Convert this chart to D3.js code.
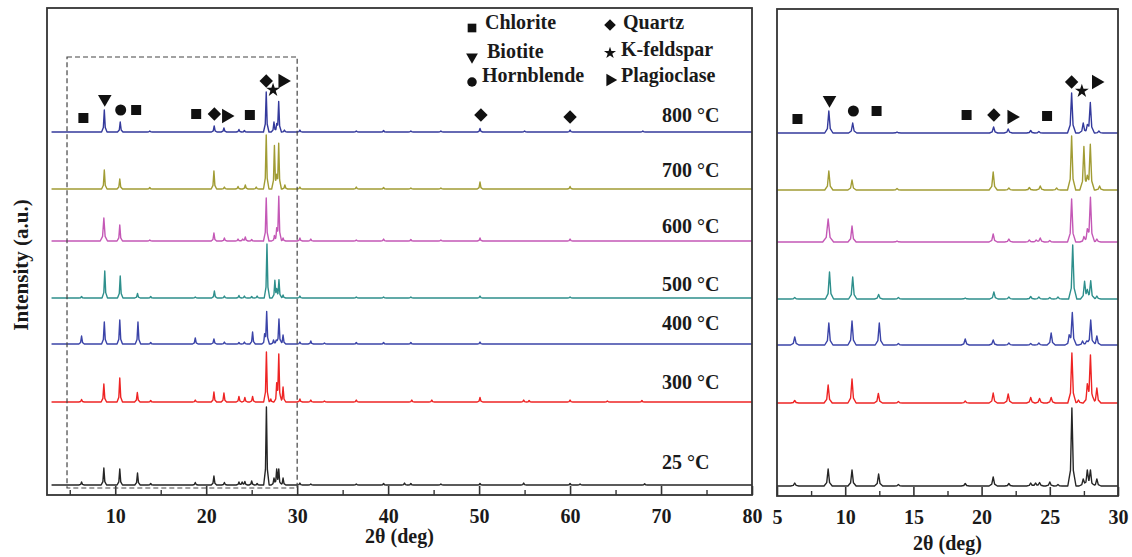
<!DOCTYPE html>
<html>
<head>
<meta charset="utf-8">
<script src="https://cdn.jsdelivr.net/npm/d3@7"></script>
<style>
  body { margin: 0; background: #fff; }
  text { font-family: "Liberation Serif", "Times New Roman", serif; font-weight: bold; fill: #1a1a1a; }
</style>
</head>
<body>
<svg id="chart" width="1132" height="557"></svg>
<script>
// samples, bottom to top
const temps = ["25 °C", "300 °C", "400 °C", "500 °C", "600 °C", "700 °C", "800 °C"];
const offsets = [10, 93, 151, 197, 254, 306, 363];
const colors = ["#262626", "#ee2424", "#3b44a8", "#2e8f8c", "#c458b6", "#a19c34", "#343a9c"];

// peaks: [2θ, height, half width]
const peaks25 = [[6.3,3],[8.75,17],[10.5,16],[12.45,12],[13.9,1.5],[18.8,2.5],[20.85,9],[22.0,2.5],[23.6,3],[23.95,3],[24.25,3.5],[25.0,4],[25.6,1.5],[26.62,78,0.3],[27.45,7],[27.75,15],[27.98,15],[28.45,7],[30.3,2],[31.5,1],[36.5,1],[39.5,1.5],[41.8,2],[42.5,1.5],[45.8,1],[50.1,1.5],[54.9,2],[60.0,1.5],[61.1,1],[68.2,1.2]];
const peaks300 = [[6.3,2.5],[8.75,18],[10.5,24],[12.43,9.5],[13.9,1.5],[18.8,2],[20.85,10],[21.95,9],[23.6,5.5],[24.25,4.5],[25.1,5.5],[26.62,50],[27.1,3],[27.75,16],[27.98,47],[28.45,15],[30.3,3],[31.5,2],[33.0,1],[36.5,2],[42.6,2],[44.8,2],[50.1,4.5],[54.9,2],[55.5,1.5],[60.0,2],[64.1,1],[67.9,1.5]];
const peaks400 = [[6.3,8],[8.8,22],[10.5,24],[12.5,22],[13.9,1.5],[18.8,6],[20.85,5],[22.0,2],[23.6,1.5],[24.2,2],[25.1,12],[26.42,8],[26.65,32],[27.4,4],[27.7,4],[28.0,25],[28.45,9],[30.3,2],[31.5,3],[33.0,1],[36.5,1.5],[39.5,1.5],[42.5,1.5],[50.1,2]];
const peaks500 = [[6.3,1.5],[8.85,27],[10.55,22],[12.45,4.5],[13.9,1.5],[18.8,1],[20.9,7],[22.0,2],[23.6,2.5],[24.2,2],[25.0,1.5],[25.6,2],[26.68,54],[27.55,17],[27.75,7],[28.0,18],[28.45,3],[30.3,2],[36.5,1],[39.5,1],[42.5,1],[50.1,2],[60.0,1]];
const peaks600 = [[8.75,23,0.4],[10.5,16],[13.8,1],[20.85,8],[22.0,3],[23.5,2],[24.0,2],[24.3,4],[25.0,1.5],[26.6,43],[27.5,5],[27.75,10],[27.98,44],[28.45,3],[30.3,3],[31.5,2],[36.5,1],[39.5,2],[42.5,1.5],[45.8,1],[50.1,3],[60.0,2]];
const peaks700 = [[8.8,19],[10.5,10],[13.8,1.5],[20.85,18],[22.0,2],[23.5,2.5],[24.3,4],[25.5,2],[26.6,54],[27.5,43],[27.75,9],[27.97,45],[28.65,4],[30.3,2],[36.5,2],[39.5,1.5],[42.5,1],[45.8,1],[50.1,7],[60.0,2.5]];
const peaks800 = [[8.8,22],[10.55,10],[13.8,1],[20.88,6],[21.95,4],[23.6,2.5],[24.2,1.5],[26.6,40],[27.45,10],[27.75,6],[27.97,30],[28.6,2],[30.3,2],[36.5,1],[39.5,1.5],[42.5,1],[45.8,1],[50.1,3.5],[55.0,1],[60.0,2],[68.0,1]];
const peakSets = [peaks25, peaks300, peaks400, peaks500, peaks600, peaks700, peaks800];

// phase markers above the 800 °C pattern: [phase, 2θ, level]
const markers = [["Chlorite",6.5,377],["Biotite",8.85,396],["Hornblende",10.6,385],["Chlorite",12.3,385],["Chlorite",18.9,381],["Quartz",20.9,381],["Plagioclase",22.2,379],["Chlorite",24.8,380],["Quartz",26.6,414],["K-feldspar",27.35,405],["Plagioclase",28.4,414],["Quartz",50.2,380],["Quartz",60.0,378]];

const phases = ["Chlorite", "Biotite", "Hornblende", "Quartz", "K-feldspar", "Plagioclase"];

const leftTicks = [10, 20, 30, 40, 50, 60, 70, 80];
const leftMinor = [5, 15, 25, 35, 45, 55, 65, 75];
const rightTicks = [5, 10, 15, 20, 25, 30];
const rightMinor = [7.5, 12.5, 17.5, 22.5, 27.5];

// layout
const labelLift = [16, 13, 14, 7, 8, 12, 10];
const svg = d3.select("#chart");

const symbolOf = {
  "Chlorite": [d3.symbolSquare, 0, 100],
  "Biotite": [d3.symbolTriangle, 180, 80],
  "Hornblende": [d3.symbolCircle, 0, 95],
  "Quartz": [d3.symbolSquare, 45, 90],
  "K-feldspar": [d3.symbolStar, 0, 60],
  "Plagioclase": [d3.symbolTriangle, 90, 90]
};

const tent = d3.scaleLinear().domain([-1, -0.35, 0, 0.35, 1]).range([0, 0.2, 1, 0.2, 0]).clamp(true);
function profile(list, lo, hi) {
  const xs = [lo, hi];
  list.forEach(([p, h, w = 0.3]) => [-1, -0.35, 0, 0.35, 1].forEach(f => xs.push(p + f * w)));
  const grid = Array.from(new Set(xs.filter(x => x >= lo && x <= hi))).sort((a, b) => a - b);
  return grid.map(x => [x, d3.sum(list, ([p, h, w = 0.3]) => h * tent((x - p) / w))]);
}

function panel(cfg) {
  const x = d3.scaleLinear().domain(cfg.xDomain).range(cfg.xRange);
  const y = d3.scaleLinear().domain([0, 487]).range(cfg.yRange);
  const g = svg.append("g");
  const clipId = "clip" + cfg.id;
  svg.append("clipPath").attr("id", clipId).append("rect")
    .attr("x", cfg.xRange[0]).attr("y", cfg.yRange[1])
    .attr("width", cfg.xRange[1] - cfg.xRange[0]).attr("height", cfg.yRange[0] - cfg.yRange[1]);

  const line = d3.line().x(d => x(d[0]));
  peakSets.forEach((pk, i) => {
    g.append("path")
      .datum(profile(pk, cfg.scan[0], cfg.scan[1]))
      .attr("clip-path", `url(#${clipId})`)
      .attr("fill", "none")
      .attr("stroke", colors[i])
      .attr("stroke-width", 1.4)
      .attr("stroke-linejoin", "round")
      .attr("d", line.y(d => y(d[1] + offsets[i])));
  });

  g.selectAll(".marker")
    .data(markers.filter(m => m[1] >= cfg.xDomain[0] && m[1] <= cfg.xDomain[1]))
    .enter().append("path")
    .attr("transform", d => `translate(${x(d[1])},${y(d[2])}) rotate(${symbolOf[d[0]][1]})`)
    .attr("d", d => d3.symbol(symbolOf[d[0]][0], symbolOf[d[0]][2])())
    .attr("fill", "#111");

  const ax = g.append("g").attr("transform", `translate(0,${cfg.yRange[0]})`)
    .call(d3.axisBottom(x).tickValues(cfg.ticks).tickSizeInner(-9).tickSizeOuter(0).tickPadding(14).tickFormat(d3.format("d")));
  ax.select(".domain").remove();
  ax.selectAll("line").attr("stroke", "#333").attr("stroke-width", 1.6);
  ax.selectAll("text").style("font-size", "20px").attr("fill", "#1a1a1a");

  const mn = g.append("g").attr("transform", `translate(0,${cfg.yRange[0]})`)
    .call(d3.axisBottom(x).tickValues(cfg.minor).tickSizeInner(-5).tickSizeOuter(0).tickFormat(""));
  mn.select(".domain").remove();
  mn.selectAll("line").attr("stroke", "#333").attr("stroke-width", 1.4);

  g.append("rect")
    .attr("x", cfg.xRange[0]).attr("y", cfg.yRange[1])
    .attr("width", cfg.xRange[1] - cfg.xRange[0]).attr("height", cfg.yRange[0] - cfg.yRange[1])
    .attr("fill", "none").attr("stroke", "#333").attr("stroke-width", 1.8);

  g.append("text")
    .attr("x", (cfg.xRange[0] + cfg.xRange[1]) / 2)
    .attr("y", cfg.titleY)
    .attr("text-anchor", "middle")
    .style("font-size", "20px")
    .text("2θ (deg)");

  return { x, y, g };
}

const left = panel({ id: "L", xDomain: [2.5, 80], xRange: [47, 752], yRange: [495, 8], scan: [3.0, 80], ticks: leftTicks, minor: leftMinor, titleY: 543 });
const right = panel({ id: "R", xDomain: [5, 30], xRange: [777, 1118], yRange: [496, 9], scan: [5, 30], ticks: rightTicks, minor: rightMinor, titleY: 550 });

// zoom window on the left panel
left.g.append("rect")
  .attr("x", left.x(4.7)).attr("y", left.y(438))
  .attr("width", left.x(30) - left.x(4.7)).attr("height", left.y(7) - left.y(438))
  .attr("fill", "none").attr("stroke", "#444").attr("stroke-width", 1.2)
  .attr("stroke-dasharray", "5,3");

// temperature labels
left.g.selectAll(".temp")
  .data(temps)
  .enter().append("text")
  .attr("x", left.x(70.1))
  .attr("y", (d, i) => left.y(offsets[i]) - labelLift[i])
  .style("font-size", "20px")
  .text(d => d);

// legend
const legendPos = [[472, 28, 485, 29], [472, 57, 487, 58], [472, 82, 482, 82], [610, 25, 623, 29], [610, 53, 621, 56], [610, 80, 621, 82]];
const leg = svg.append("g");
phases.forEach((p, i) => {
  const [sx, sy, tx, ty] = legendPos[i];
  const s = symbolOf[p];
  leg.append("path")
    .attr("transform", `translate(${sx},${sy}) rotate(${s[1]})`)
    .attr("d", d3.symbol(s[0], s[2] * 0.75)())
    .attr("fill", "#111");
  leg.append("text").attr("x", tx).attr("y", ty).style("font-size", "20px").text(p);
});

svg.append("text")
  .attr("transform", "translate(28,265) rotate(-90)")
  .attr("text-anchor", "middle")
  .style("font-size", "21px")
  .text("Intensity (a.u.)");
</script>
</body>
</html>
